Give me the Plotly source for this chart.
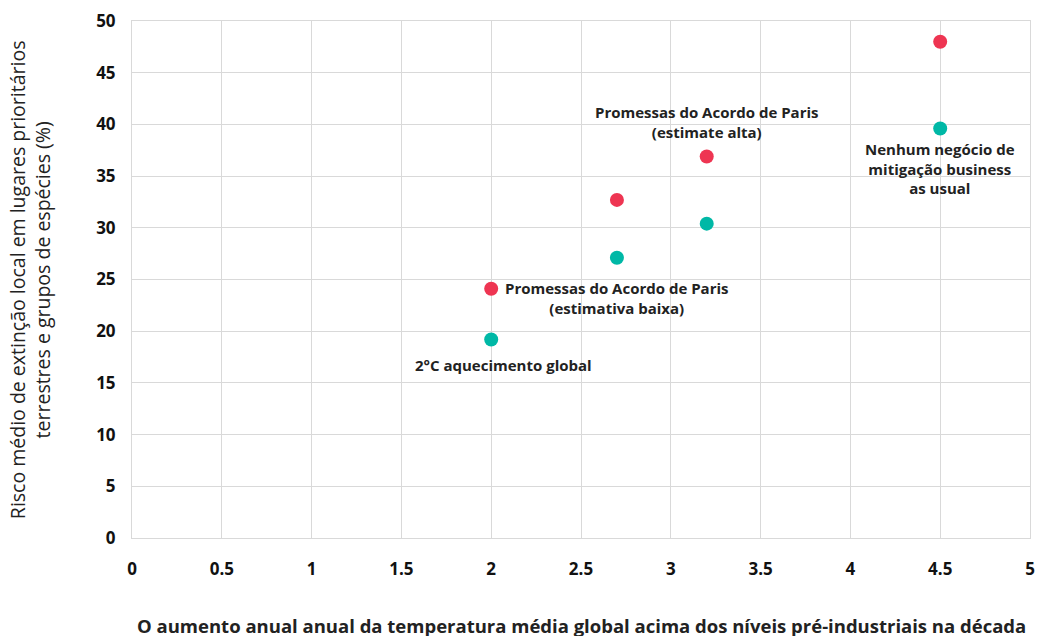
import plotly.graph_objects as go

temps = [2.0, 2.7, 3.2, 4.5]
risk_high = [24.1, 32.7, 36.9, 48.0]
risk_low = [19.2, 27.1, 30.4, 39.6]

label_texts = [
    "Promessas do Acordo de Paris<br>(estimativa baixa)",
    "2°C aquecimento global",
    "Promessas do Acordo de Paris<br>(estimate alta)",
    "Nenhum negócio de<br>mitigação business<br>as usual",
]
label_x = [2.7, 2.07, 3.2, 4.5]
label_y = [23.2, 16.7, 40.2, 35.7]

x_title = "O aumento anual anual da temperatura média global acima dos níveis pré-industriais na década"
y_title = "Risco médio de extinção local em lugares prioritários<br>terrestres e grupos de espécies (%)"

FONT = "Open Sans, Noto Sans, sans-serif"
fig = go.Figure()
fig.add_trace(go.Scatter(x=temps, y=risk_high, mode="markers",
                         marker=dict(color="#ee3552", size=14), showlegend=False))
fig.add_trace(go.Scatter(x=temps, y=risk_low, mode="markers",
                         marker=dict(color="#00b8a6", size=14), showlegend=False))

for t, x, y in zip(label_texts, label_x, label_y):
    fig.add_annotation(x=x, y=y, text=t, showarrow=False, xref="x", yref="y",
                       font=dict(family=FONT, size=15, color="#222222", weight="bold"),
                       align="center")

fig.add_annotation(x=0.5, y=-0.17, xref="paper", yref="paper", text=x_title,
                   showarrow=False, xanchor="center", yanchor="middle",
                   font=dict(family=FONT, size=18.5, weight="bold", color="#222222"))
fig.add_annotation(x=-0.114, y=0.5, xref="paper", yref="paper", text=y_title,
                   showarrow=False, xanchor="center", yanchor="middle", textangle=-90,
                   font=dict(family=FONT, size=19.5, color="#222222"))

fig.update_layout(
    width=1037, height=636,
    margin=dict(l=132, r=7, t=21, b=98),
    plot_bgcolor="white", paper_bgcolor="white",
    font=dict(family=FONT, color="#222222"),
    xaxis=dict(range=[0, 5], dtick=0.5, showgrid=True, gridcolor="#d9d9d9",
               zeroline=True, zerolinecolor="#d9d9d9", showline=True, linecolor="#d9d9d9",
               mirror=True, ticks="outside", ticklen=16, tickcolor="rgba(0,0,0,0)",
               automargin=False, ticklabeloverflow="allow",
               tickfont=dict(family=FONT, size=17, weight="bold", color="#111111")),
    yaxis=dict(range=[0, 50], dtick=5, showgrid=True, gridcolor="#d9d9d9",
               zeroline=True, zerolinecolor="#d9d9d9", showline=True, linecolor="#d9d9d9",
               mirror=True, ticks="outside", ticklen=12, tickcolor="rgba(0,0,0,0)",
               automargin=False, ticklabeloverflow="allow",
               tickfont=dict(family=FONT, size=17, weight="bold", color="#111111")),
)

fig.write_html("out.html", config={"displayModeBar": False},
               post_script="document.body.style.margin='0';document.body.style.overflow='hidden';")
